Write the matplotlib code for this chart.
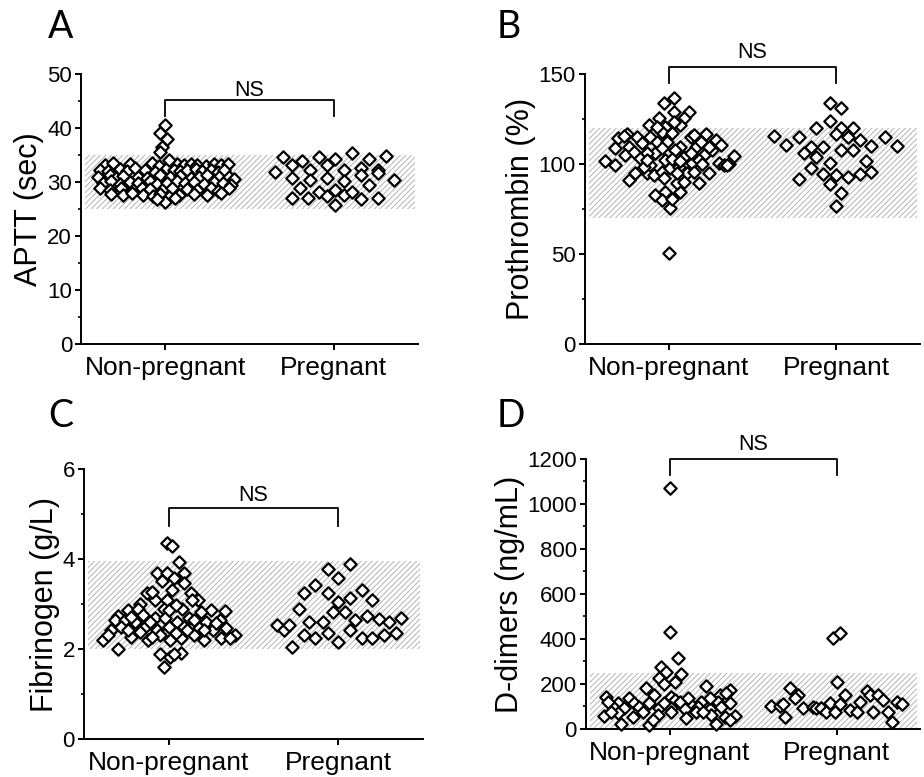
import numpy as np
import matplotlib
matplotlib.use("Agg")
import matplotlib.pyplot as plt
from matplotlib.ticker import AutoMinorLocator, MultipleLocator

plt.rcParams["font.family"] = ["Liberation Sans", "DejaVu Sans"]
plt.rcParams["hatch.linewidth"] = 0.7

groups = ["Non-pregnant", "Pregnant"]

# A - APTT (sec); *_dx = horizontal scatter offset from the group centre
aptt_np_dx = [-0.36, -0.31, -0.21, -0.08, -0.04, 0.07, 0.11, 0.15, 0.19, 0.24, 0.29, 0.33, 0.37,
              -0.39, -0.34, -0.27, -0.23, -0.18, -0.12, -0.06, 0.01, 0.05, 0.09, 0.13, 0.18, 0.22, 0.27, 0.31, 0.35,
              -0.40, -0.33, -0.29, -0.25, -0.16, -0.11, -0.03, 0.03, 0.09, 0.15, 0.20, 0.25, 0.32, 0.38, 0.41,
              -0.37, -0.32, -0.27, -0.21, -0.16, -0.09, -0.05, 0.01, 0.07, 0.12, 0.17, 0.23, 0.29, 0.34, 0.39,
              -0.39, -0.33, -0.26, -0.19, -0.14, -0.09, -0.02, 0.04, 0.13, 0.19, 0.27, 0.31, 0.38,
              -0.32, -0.25, -0.20, -0.13, -0.07, -0.03, 0.02, 0.08, 0.17, 0.25, 0.33,
              0.0, 0.06, -0.05,
              0.0, -0.03, 0.01, -0.02, -0.03, 0.02]
aptt_np = [33.2, 33.5, 33.4, 33.6, 33.0, 33.3, 33.1, 33.4, 33.2, 33.0, 33.3, 33.1, 33.4,
           32.3, 32.0, 32.4, 32.1, 32.5, 32.2, 31.9, 32.6, 32.3, 32.0, 32.2, 32.4, 32.1, 32.3, 31.9, 32.2,
           30.9, 31.2, 30.8, 31.1, 31.0, 30.7, 31.3, 30.9, 31.1, 30.8, 31.0, 31.2, 30.9, 31.0, 30.6,
           29.8, 30.1, 29.7, 30.0, 29.9, 30.2, 29.6, 29.9, 30.1, 29.8, 30.0, 29.7, 30.0, 29.9, 29.5,
           28.9, 28.6, 28.8, 28.5, 28.9, 28.7, 28.6, 28.9, 28.7, 28.5, 28.8, 28.4, 28.9,
           27.8, 27.5, 27.9, 27.6, 27.4, 27.7, 27.3, 27.6, 27.8, 27.5, 28.0,
           26.2, 27.0, 26.8,
           40.6, 39.0, 37.9, 36.4, 35.6, 34.1]
aptt_pg_dx = [-0.35, -0.30, -0.25, -0.19, -0.25, -0.20, -0.25, -0.14, -0.14, -0.15, -0.09, -0.04, -0.04,
              -0.09, -0.04, 0.01, 0.01, 0.01, 0.06, 0.06, 0.06, 0.11, 0.11, 0.16, 0.16, 0.16, 0.21, 0.21,
              0.26, 0.26, 0.26, 0.31, 0.36]
aptt_pg = [31.9, 34.6, 33.1, 33.9, 30.7, 28.8, 27.0, 32.2, 30.4, 27.0, 34.6, 33.1, 30.7,
           28.2, 27.4, 34.2, 28.5, 25.7, 32.2, 30.2, 27.6, 35.3, 28.2, 32.5, 31.3, 26.8, 34.2, 29.4,
           32.2, 31.6, 27.0, 34.8, 30.4]

# B - Prothrombin (%)
pt_np_dx = [0.03, -0.03, 0.12, 0.03, 0.09, -0.06, -0.12, -0.02, 0.07, -0.25, -0.30, -0.19, -0.11, -0.04,
            0.02, 0.13, 0.22, 0.28, 0.31, -0.32, -0.24, -0.16, -0.07, -0.01, 0.07, 0.16, 0.19, 0.26,
            -0.38, -0.32, -0.26, -0.17, -0.08, -0.02, 0.04, 0.09, 0.14, 0.21, 0.30, 0.33, 0.36, 0.39,
            -0.24, -0.20, -0.13, -0.09, -0.04, 0.01, 0.06, 0.11, 0.18, 0.24, -0.08, -0.02, -0.04, 0.01,
            0.02, 0.07, 0.05, 0.09, 0.0, -0.21, -0.13, -0.04, 0.02, 0.07, 0.13, 0.18, 0.24, -0.11,
            -0.15, 0.05, -0.03, 0.15, 0.20, -0.27, -0.07, 0.03, -0.13, 0.15, 0.35]
pt_np = [136.9, 133.7, 129.1, 129.1, 125.8, 125.8, 121.7, 120.8, 121.7, 116.5, 114.3, 115.2, 115.2, 118.0,
         117.0, 115.2, 116.5, 113.3, 110.6, 108.7, 109.6, 111.5, 112.4, 112.4, 109.6, 109.6, 112.4, 107.8,
         101.7, 99.5, 105.0, 103.2, 105.9, 102.2, 107.8, 104.1, 100.4, 105.0, 100.4, 99.5, 99.8, 104.6,
         91.1, 94.8, 94.8, 93.9, 95.8, 97.6, 98.5, 94.8, 89.3, 94.8, 82.8, 84.6, 80.0, 75.4,
         80.6, 84.6, 89.3, 90.2, 50.4, 106.9, 105.9, 108.7, 102.8, 101.7, 105.9, 102.2, 109.6, 99.5,
         98.5, 94.8, 92.0, 95.8, 99.8, 115.7, 120.8, 123.5, 102.2, 116.1, 99.5]
pt_pg_dx = [-0.37, -0.30, -0.22, -0.12, -0.15, -0.08, -0.19, -0.12, -0.15, -0.22, -0.04, 0.03, -0.04,
            0.03, 0.00, 0.10, 0.07, 0.14, 0.03, 0.10, -0.04, -0.08, -0.04, 0.00, 0.07, 0.14, 0.18,
            0.21, 0.21, 0.29, 0.36, 0.03, 0.00]
pt_pg = [115.8, 110.6, 115.2, 120.2, 109.6, 109.6, 105.9, 104.1, 97.6, 91.7, 133.7, 131.3, 123.9,
         120.2, 116.5, 120.2, 115.2, 113.3, 107.8, 107.8, 100.4, 94.3, 88.7, 93.9, 93.0, 94.3, 101.7,
         110.2, 95.4, 115.2, 110.2, 83.7, 76.9]

# C - Fibrinogen (g/L)
fib_np_dx = [-0.01, 0.02, 0.06, -0.07, -0.01, 0.09, -0.04, 0.03, 0.09, -0.13, 0.02, 0.13, 0.17, -0.17,
             -0.08, -0.01, 0.08, -0.24, -0.30, -0.03, -0.18, 0.25, 0.33, -0.32, -0.26, -0.20, -0.08, 0.05,
             0.12, 0.19, 0.22, 0.30, -0.34, -0.28, -0.22, -0.14, -0.07, 0.00, 0.09, 0.18, 0.26, 0.34,
             -0.39, -0.30, -0.12, -0.05, 0.01, 0.07, 0.15, 0.21, 0.31, 0.39, 0.36, -0.05, 0.01, 0.07,
             -0.03, 0.03, -0.36, -0.24, -0.17, -0.11, -0.02, 0.15, 0.21, -0.10, 0.00, 0.04, 0.14, -0.15,
             -0.22, 0.28, 0.04, 0.11, -0.10]
fib_np = [4.35, 4.29, 3.93, 3.70, 3.70, 3.70, 3.52, 3.57, 3.47, 3.24, 3.31, 3.24, 3.10, 3.01,
          3.09, 3.09, 2.88, 2.87, 2.73, 2.90, 2.90, 2.87, 2.85, 2.64, 2.64, 2.61, 2.68, 2.61,
          2.68, 2.83, 2.61, 2.64, 2.42, 2.50, 2.27, 2.50, 2.42, 2.50, 2.50, 2.46, 2.42, 2.46,
          2.21, 2.01, 2.20, 2.31, 2.20, 2.24, 2.31, 2.20, 2.24, 2.31, 2.24, 1.90, 1.83, 1.92,
          1.61, 1.90, 2.31, 2.42, 2.38, 2.61, 2.68, 2.64, 2.42, 3.27, 2.87, 2.98, 3.09, 2.76,
          2.72, 2.57, 2.35, 2.42, 2.27]
fib_pg_dx = [-0.36, -0.32, -0.29, -0.27, -0.23, -0.20, -0.20, -0.14, -0.17, -0.14, -0.09, -0.06, -0.06,
             -0.06, 0.00, 0.00, 0.00, -0.03, 0.04, 0.07, 0.07, 0.07, 0.10, 0.14, 0.14, 0.17, 0.20,
             0.20, 0.24, 0.27, 0.30, 0.34, 0.37]
fib_pg = [2.53, 2.42, 2.53, 2.05, 2.90, 3.24, 2.31, 3.42, 2.61, 2.24, 2.61, 3.77, 3.25,
          2.35, 3.57, 3.05, 2.16, 2.83, 2.83, 3.89, 3.13, 2.42, 2.64, 3.31, 2.24, 2.73, 3.09,
          2.24, 2.66, 2.31, 2.61, 2.35, 2.70]

# D - D-dimers (ng/mL)
dd_np_dx = [0.0, 0.0, 0.05, -0.05, -0.02, 0.07, -0.06, 0.03, -0.03, -0.14, 0.22, 0.36, -0.38, -0.24,
            -0.09, 0.01, -0.21, -0.31, -0.12, 0.03, 0.06, 0.13, 0.19, 0.30, 0.34, 0.29, 0.36, -0.34,
            -0.27, -0.18, -0.06, 0.01, 0.09, 0.17, 0.24, 0.31, -0.39, -0.31, -0.22, -0.07, 0.01, 0.16,
            0.25, 0.33, 0.39, -0.29, -0.12, -0.10, 0.10, 0.28, 0.36, -0.37, -0.35, -0.16, -0.03, 0.11,
            0.20, 0.24]
dd_np = [1070, 433, 317, 277, 255, 243, 228, 210, 199, 184, 191, 173, 144, 139,
         151, 144, 114, 114, 114, 129, 119, 107, 122, 151, 159, 119, 114, 99,
         92, 99, 92, 92, 89, 99, 89, 99, 59, 70, 55, 62, 77, 77,
         62, 55, 59, 21, 18, 40, 50, 21, 40, 122, 77, 77, 114, 137,
         77, 137]
dd_pg_dx = [-0.02, 0.02, 0.00, -0.28, -0.23, -0.25, -0.39, -0.34, -0.32, -0.31, -0.20, -0.14, -0.12,
            -0.09, -0.06, -0.04, -0.01, 0.02, 0.05, 0.08, 0.12, 0.14, 0.18, 0.20, 0.22, 0.25, 0.28,
            0.31, 0.33, 0.36, 0.39]
dd_pg = [406, 425, 210, 181, 151, 137, 104, 104, 110, 55, 95, 99, 95,
         95, 77, 114, 77, 110, 151, 84, 77, 119, 169, 151, 77, 151, 129,
         77, 33, 119, 110]

panels = [
    dict(label="A", ylabel="APTT (sec)", np_dx=aptt_np_dx, np_y=aptt_np, pg_dx=aptt_pg_dx, pg_y=aptt_pg,
         ymax=50, ystep=10, band=(25, 35), ns=(45.2, 42.2, 47.0), rect=[0.0877, 0.5573, 0.3647, 0.3475]),
    dict(label="B", ylabel="Prothrombin (%)", np_dx=pt_np_dx, np_y=pt_np, pg_dx=pt_pg_dx, pg_y=pt_pg,
         ymax=150, ystep=50, band=(70, 120), ns=(154, 144.8, 162), rect=[0.6331, 0.5573, 0.3626, 0.3475]),
    dict(label="C", ylabel="Fibrinogen (g/L)", np_dx=fib_np_dx, np_y=fib_np, pg_dx=fib_pg_dx, pg_y=fib_pg,
         ymax=6, ystep=2, band=(2, 3.95), ns=(5.13, 4.73, 5.41), rect=[0.0909, 0.0489, 0.3669, 0.3475]),
    dict(label="D", ylabel="D-dimers (ng/mL)", np_dx=dd_np_dx, np_y=dd_np, pg_dx=dd_pg_dx, pg_y=dd_pg,
         ymax=1200, ystep=200, band=(0, 250), ns=(1200, 1129, 1264), rect=[0.6342, 0.0618, 0.3615, 0.3475]),
]
letter_pos = {"A": (0.052, 0.951), "B": (0.538, 0.951), "C": (0.052, 0.450), "D": (0.538, 0.450)}

fig = plt.figure(figsize=(9.24, 7.77), dpi=100)

for p in panels:
    ax = fig.add_axes(p["rect"])
    ax.axhspan(p["band"][0], p["band"][1], xmin=0.012, xmax=0.99, facecolor="white",
               edgecolor="#b4b4b4", hatch="//////", linewidth=0, zorder=0)
    for centre, dx, y in [(1, p["np_dx"], p["np_y"]), (2, p["pg_dx"], p["pg_y"])]:
        ax.scatter(centre + np.array(dx), y, marker="D", s=40, facecolors="white",
                   edgecolors="black", linewidths=1.6, zorder=3, clip_on=False)

    ax.set_xlim(0.5, 2.5)
    ax.set_ylim(0, p["ymax"])
    ax.yaxis.set_major_locator(MultipleLocator(p["ystep"]))
    ax.yaxis.set_minor_locator(AutoMinorLocator(2))
    ax.set_xticks([1, 2], groups)

    for side in ["top", "right"]:
        ax.spines[side].set_visible(False)
    for side in ["left", "bottom"]:
        ax.spines[side].set_linewidth(1.4)
    ax.tick_params(axis="y", which="major", direction="out", length=4.5, width=1.4, labelsize=16, pad=2)
    ax.tick_params(axis="y", which="minor", direction="out", length=2.5, width=1.2)
    ax.tick_params(axis="x", which="major", direction="out", length=4.5, width=1.4, labelsize=19, pad=4)
    ax.set_ylabel(p["ylabel"], fontsize=22, labelpad=2)

    top, low, txt = p["ns"]
    ax.plot([1, 1, 2, 2], [low, top, top, low], color="black", lw=1.3, clip_on=False)
    ax.text(1.5, txt, "NS", ha="center", va="center", fontsize=15.5)

    lx, ly = letter_pos[p["label"]]
    fig.text(lx, ly, p["label"], fontsize=27, family=["Lato", "DejaVu Sans"], va="baseline")

fig.savefig("out.png", dpi=100)
